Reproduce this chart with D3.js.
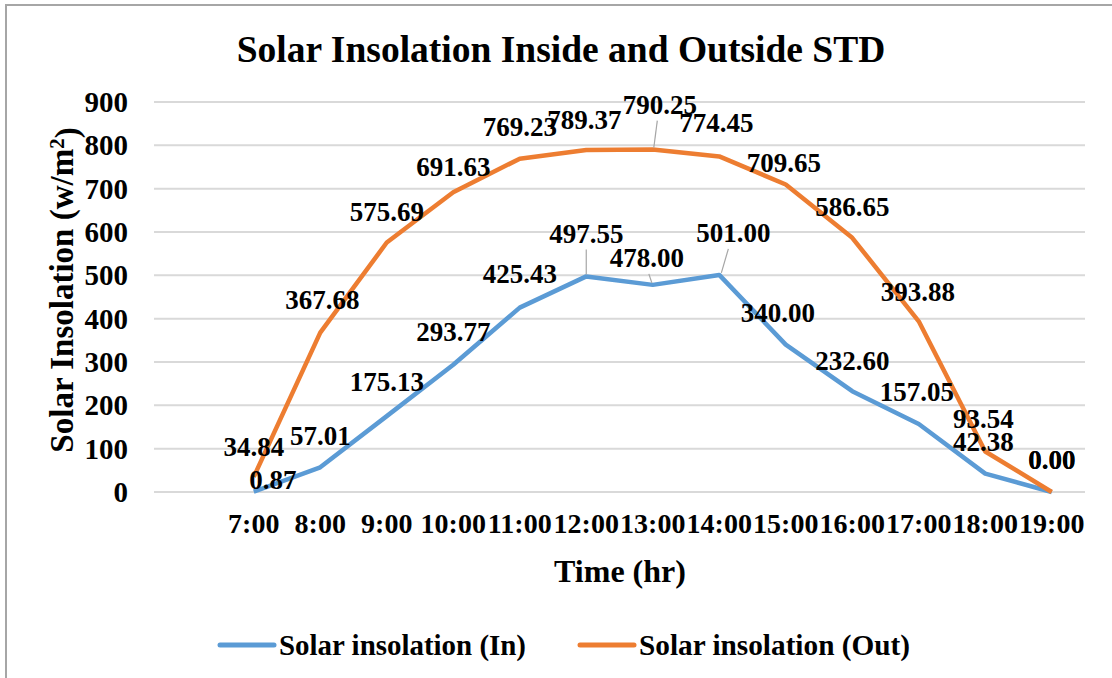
<!DOCTYPE html>
<html>
<head>
<meta charset="utf-8">
<script src="https://cdn.jsdelivr.net/npm/d3@7"></script>
<style>
  body { margin: 0; background: #fff; }
  text { font-family: "Liberation Serif", "Times New Roman", serif; font-weight: bold; fill: #000; }
</style>
</head>
<body>
<div id="chart"></div>
<script>
// categories (first slot is an empty category, as in the original sheet)
var hours = ["", "7:00", "8:00", "9:00", "10:00", "11:00", "12:00", "13:00", "14:00", "15:00", "16:00", "17:00", "18:00", "19:00"];
var insideVals = [0.87, 57.01, 175.13, 293.77, 425.43, 497.55, 478.00, 501.00, 340.00, 232.60, 157.05, 42.38, 0.00];
var outsideVals = [34.84, 367.68, 575.69, 691.63, 769.23, 789.37, 790.25, 774.45, 709.65, 586.65, 393.88, 93.54, 0.00];
var yTicks = [0, 100, 200, 300, 400, 500, 600, 700, 800, 900];

// label nudges (dx, dy from the point), third item = draw a callout line
var inNudge = [[19, -12], [0, -32], [0, -35], [0, -33], [0, -34], [0, -43, 1], [-6, -27, 1], [14, -42, 1], [-8, -32], [0, -31], [-2, -32], [-2, -32], [0, -32]];
var outNudge = [[0, -30], [2, -33], [0, -31], [0, -26], [0, -32], [-2, -30], [7, -45, 1], [-3, -34], [-2, -22], [0, -31], [-1, -30], [-2, -33], [0, -32]];

var W = 1112, H = 678;
var svg = d3.select("#chart").append("svg").attr("width", W).attr("height", H);

svg.append("rect").attr("x", 6).attr("y", 5).attr("width", W + 10).attr("height", H + 10)
    .attr("fill", "#fff").attr("stroke", "#a6a6a6").attr("stroke-width", 2);

var pLeft = 154, pRight = 1085, pTop = 102, pBottom = 492;

var x = d3.scaleBand().domain(d3.range(hours.length)).range([pLeft, pRight]);
var y = d3.scaleLinear().domain([0, 900]).range([pBottom, pTop]);
var cx = function (i) { return x(i + 1) + x.bandwidth() / 2; };

// gridlines
svg.append("g").selectAll("line").data(yTicks).enter().append("line")
    .attr("x1", pLeft).attr("x2", pRight)
    .attr("y1", function (d) { return y(d); }).attr("y2", function (d) { return y(d); })
    .attr("stroke", "#d9d9d9").attr("stroke-width", 2);

// y tick labels
svg.append("g").selectAll("text").data(yTicks).enter().append("text")
    .attr("x", 128).attr("y", function (d) { return y(d); })
    .attr("text-anchor", "end").attr("dy", "0.35em")
    .style("font-size", "29px").text(function (d) { return d; });

// x tick labels
svg.append("g").selectAll("text").data(hours).enter().append("text")
    .attr("x", function (d, i) { return x(i) + x.bandwidth() / 2; })
    .attr("y", 533).attr("text-anchor", "middle")
    .style("font-size", "28px").text(function (d) { return d; });

// titles
svg.append("text").attr("x", 561).attr("y", 62).attr("text-anchor", "middle")
    .style("font-size", "37.5px").text("Solar Insolation Inside and Outside STD");
svg.append("text").attr("x", 620).attr("y", 582).attr("text-anchor", "middle")
    .style("font-size", "32px").text("Time (hr)");
var yt = svg.append("text").attr("transform", "translate(73,290) rotate(-90)")
    .attr("text-anchor", "middle").style("font-size", "33px");
yt.append("tspan").text("Solar Insolation (w/m");
yt.append("tspan").attr("dy", "-0.45em").style("font-size", "21px").text("2");
yt.append("tspan").attr("dy", "0.45em").text(")");

var line = d3.line().x(function (d, i) { return cx(i); }).y(function (d) { return y(d); });

var series = [
    { vals: insideVals, color: "#5b9bd5", nudge: inNudge },
    { vals: outsideVals, color: "#ed7d31", nudge: outNudge }
];

series.forEach(function (s) {
    svg.append("path").datum(s.vals).attr("d", line)
        .attr("fill", "none").attr("stroke", s.color).attr("stroke-width", 4.5)
        .attr("stroke-linejoin", "round");
});

// leader lines then labels
series.forEach(function (s) {
    var g = svg.append("g");
    s.vals.forEach(function (v, i) {
        var n = s.nudge[i], px = cx(i), py = y(v);
        if (n[2]) {
            g.append("line").attr("x1", px + n[0] * 0.15).attr("y1", py - 2)
                .attr("x2", px + n[0] * 0.65).attr("y2", py + n[1] + 16)
                .attr("stroke", "#a6a6a6").attr("stroke-width", 1.2);
        }
    });
});
series.forEach(function (s) {
    svg.append("g").selectAll("text").data(s.vals).enter().append("text")
        .attr("x", function (d, i) { return cx(i) + s.nudge[i][0]; })
        .attr("y", function (d, i) { return y(d) + s.nudge[i][1]; })
        .attr("text-anchor", "middle").attr("dy", "0.35em")
        .style("font-size", "27px").text(function (d) { return d.toFixed(2); });
});

// legend
var legend = [["Solar insolation (In)", "#5b9bd5", 220, 247], ["Solar insolation (Out)", "#ed7d31", 580, 271]];
legend.forEach(function (l) {
    svg.append("line").attr("x1", l[2]).attr("x2", l[2] + 54).attr("y1", 645).attr("y2", 645)
        .attr("stroke", l[1]).attr("stroke-width", 5).attr("stroke-linecap", "round");
    svg.append("text").attr("x", l[2] + 59).attr("y", 655)
        .attr("textLength", l[3]).attr("lengthAdjust", "spacingAndGlyphs")
        .style("font-size", "30px").text(l[0]);
});
</script>
</body>
</html>
